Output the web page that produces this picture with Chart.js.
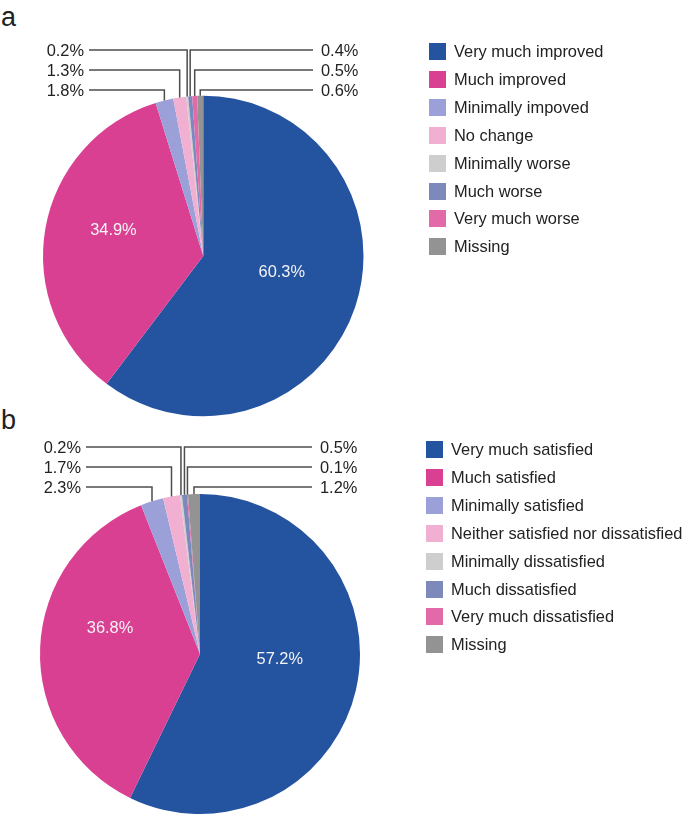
<!DOCTYPE html>
<html>
<head>
<meta charset="utf-8">
<script src="https://cdn.jsdelivr.net/npm/chart.js@4/dist/chart.umd.min.js"></script>
<style>
  html, body { margin: 0; padding: 0; background: #fff; }
  body { width: 685px; height: 815px; position: relative; overflow: hidden;
         font-family: "Liberation Sans", Arial, sans-serif; color: #222; }
  canvas { position: absolute; left: 0; }
  .panel-letter { position: absolute; left: 1px; font-size: 27px; line-height: 1; }
  .legend { position: absolute; }
  .legend-row { position: absolute; left: 0; height: 17px; white-space: nowrap; }
  .legend-row span.box { position: absolute; left: 0; top: 0; width: 17px; height: 17px; }
  .legend-row span.txt { position: absolute; top: -1px; font-size: 16.4px; line-height: 19px; color: #222; }
</style>
</head>
<body>
<div class="panel-letter" style="top:4px">a</div>
<div class="panel-letter" style="top:407px">b</div>
<canvas id="chartA" width="685" height="420" style="top:0"></canvas>
<canvas id="chartB" width="685" height="415" style="top:400px"></canvas>
<div class="legend" id="legendA" style="left:429px; top:43px"></div>
<div class="legend" id="legendB" style="left:426px; top:441px"></div>

<script>
// data
const labelsA = ["Very much improved", "Much improved", "Minimally impoved", "No change",
  "Minimally worse", "Much worse", "Very much worse", "Missing"];
const valuesA = [60.3, 34.9, 1.8, 1.3, 0.2, 0.4, 0.5, 0.6];

const labelsB = ["Very much satisfied", "Much satisfied", "Minimally satisfied",
  "Neither satisfied nor dissatisfied", "Minimally dissatisfied", "Much dissatisfied",
  "Very much dissatisfied", "Missing"];
const valuesB = [57.2, 36.8, 2.3, 1.7, 0.2, 0.5, 0.1, 1.2];

const sliceColors = ["#2453a0", "#da4092", "#9ba1d8", "#f1afd2", "#cecece", "#7d88bb", "#e36aa8", "#939393"];

// labels inside big slices + leader lines for small ones
const pieLabels = {
  id: "pieLabels",
  afterDraw(chart, args, opts) {
    const ctx = chart.ctx;
    const arcs = chart.getDatasetMeta(0).data;
    const data = chart.data.datasets[0].data;
    const cx = arcs[0].x, cy = arcs[0].y, r = arcs[0].outerRadius;
    const big = opts.bigCount;
    const half = (arcs.length - big) / 2;

    ctx.save();
    ctx.font = '16.4px "Liberation Sans", Arial, sans-serif';
    ctx.textBaseline = "middle";
    ctx.lineWidth = 1.5;
    ctx.strokeStyle = "#4d4d4d";

    arcs.forEach((arc, i) => {
      const mid = (arc.startAngle + arc.endAngle) / 2;
      const text = data[i].toFixed(1) + "%";
      if (i < big) {
        const s = opts.shift[i];
        ctx.fillStyle = "#f4f4f4";
        ctx.textAlign = "center";
        ctx.fillText(text, cx + Math.cos(mid) * r * 0.55 + s[0], cy + Math.sin(mid) * r * 0.55 + s[1]);
        return;
      }
      const k = i - big;
      const vx = cx + Math.cos(mid) * r;
      const vy = cy + Math.sin(mid) * r;
      ctx.fillStyle = "#222";
      ctx.beginPath();
      if (k < half) {
        const y = opts.rowY[half - 1 - k];
        ctx.moveTo(opts.leftX, y);
        ctx.lineTo(vx, y);
        ctx.lineTo(vx, vy);
        ctx.stroke();
        ctx.textAlign = "right";
        ctx.fillText(text, opts.leftX - 5, y + 1);
      } else {
        const y = opts.rowY[k - half];
        ctx.moveTo(vx, vy);
        ctx.lineTo(vx, y);
        ctx.lineTo(opts.rightX, y);
        ctx.stroke();
        ctx.textAlign = "left";
        ctx.fillText(text, opts.rightX + 8, y + 1);
      }
    });
    ctx.restore();
  }
};

function makePie(id, labels, values, padding, labelOpts) {
  return new Chart(document.getElementById(id), {
    type: "pie",
    data: {
      labels: labels,
      datasets: [{
        data: values,
        backgroundColor: sliceColors,
        borderWidth: 0,
        hoverOffset: 0
      }]
    },
    options: {
      responsive: false,
      animation: false,
      events: [],
      layout: { padding: padding },
      plugins: {
        legend: { display: false },
        tooltip: { enabled: false },
        pieLabels: labelOpts
      }
    },
    plugins: [pieLabels]
  });
}

makePie("chartA", labelsA, valuesA,
  { left: 43, top: 95.5, right: 321.5, bottom: 3.5 },
  { bigCount: 2, shift: [[-5, -12], [-3, -10]], rowY: [50, 70, 90], leftX: 89, rightX: 313 });

makePie("chartB", labelsB, valuesB,
  { left: 40, top: 94, right: 325, bottom: 1 },
  { bigCount: 2, shift: [[-6, -14], [-2, -22]], rowY: [47, 67, 87], leftX: 86, rightX: 312 });

// html legends
function buildLegend(elId, labels) {
  const el = document.getElementById(elId);
  labels.forEach((lab, i) => {
    const row = document.createElement("div");
    row.className = "legend-row";
    row.style.top = (i * 27.9) + "px";
    row.innerHTML = '<span class="box" style="background:' + sliceColors[i] + '"></span>' +
      '<span class="txt" style="left:25px">' + lab + '</span>';
    el.appendChild(row);
  });
}
buildLegend("legendA", labelsA);
buildLegend("legendB", labelsB);
</script>
</body>
</html>
